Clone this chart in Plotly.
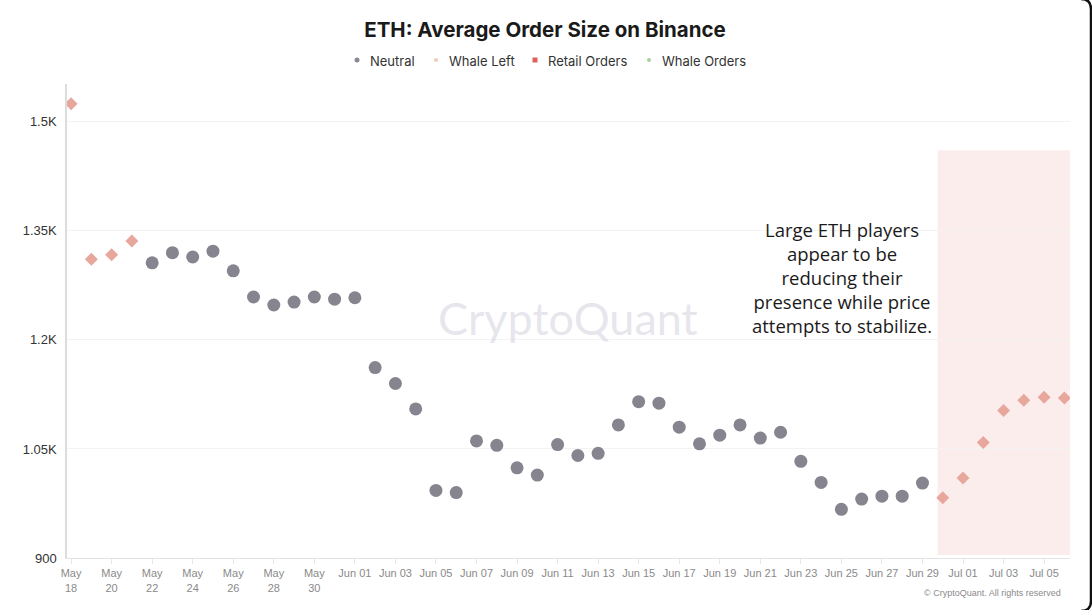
import plotly.graph_objects as go
import pandas as pd

# ---- data ----
dates = pd.date_range("2025-05-18", "2025-07-06", freq="D").strftime("%Y-%m-%d").tolist()
values = [1525, 1311, 1317, 1336, 1306, 1320, 1314, 1322, 1295, 1259,
          1248, 1252, 1259, 1256, 1258, 1162, 1140, 1105, 993, 990,
          1061, 1055, 1024, 1014, 1056, 1041, 1044, 1083, 1115, 1113,
          1080, 1057, 1069, 1083, 1065, 1073, 1033, 1004, 967, 981,
          985, 985, 1003, 983, 1010, 1059, 1103, 1117, 1121, 1120]
kinds = (["Retail Orders"] * 4 + ["Neutral"] * 39 + ["Retail Orders"] * 7)

tick_dates = dates[::2][:25]
tick_text = []
for d in tick_dates:
    t = pd.Timestamp(d)
    if t.month == 5:
        tick_text.append(f"May<br>{t.day:02d}")
    else:
        tick_text.append(t.strftime("%b %d"))

y_ticks = [900, 1050, 1200, 1350, 1500]
y_text = ["900", "1.05K", "1.2K", "1.35K", "1.5K"]

legend_names = ["Neutral", "Whale Left", "Retail Orders", "Whale Orders"]
legend_colors = ["#8a8893", "#f3cbb8", "#e0615c", "#a9d39e"]
legend_symbols = ["circle", "circle", "square", "circle"]

neutral_color = "#86848f"
retail_color = "#e8a79d"

# ---- geometry helpers (pixel -> paper) ----
L, R, T, B = 67, 22, 84, 52
W, H = 1092, 610
pw, ph = W - L - R, H - T - B


def px(x):
    return (x - L) / pw


def py(y):
    return (H - B - y) / ph


# ---- figure ----
fig = go.Figure()

nx = [d for d, k in zip(dates, kinds) if k == "Neutral"]
ny = [v for v, k in zip(values, kinds) if k == "Neutral"]
rx = [d for d, k in zip(dates, kinds) if k == "Retail Orders"]
ry = [v for v, k in zip(values, kinds) if k == "Retail Orders"]

fig.add_trace(go.Scatter(x=nx, y=ny, mode="markers", showlegend=False,
                         marker=dict(symbol="circle", size=13, color=neutral_color),
                         name="Neutral"))
fig.add_trace(go.Scatter(x=rx, y=ry, mode="markers", showlegend=False,
                         marker=dict(symbol="diamond", size=10, color=retail_color),
                         name="Retail Orders"))

# highlighted region
fig.add_shape(type="rect", xref="x", yref="y",
              x0="2025-06-29 18:00", x1="2025-07-06 06:40", y0=904, y1=1461,
              fillcolor="rgba(250,225,225,0.6)", line_width=0, layer="below")

# watermark
fig.add_annotation(x=px(568), y=py(318), xref="paper", yref="paper",
                   xanchor="center", yanchor="middle",
                   text="CryptoQuant", showarrow=False,
                   font=dict(family="Lato", size=45, color="rgba(200,200,212,0.45)"))

# commentary
fig.add_annotation(x=px(842), y=py(277), xref="paper", yref="paper",
                   xanchor="center", yanchor="middle",
                   text="Large ETH players<br>appear to be<br>reducing their<br>presence while price<br>attempts to stabilize.",
                   showarrow=False, align="center",
                   font=dict(family="Open Sans", size=18.5, color="#1a1a1a"))

# copyright
fig.add_annotation(x=px(1063), y=py(593), xref="paper", yref="paper",
                   text="© CryptoQuant. All rights reserved", showarrow=False,
                   xanchor="right", yanchor="middle",
                   font=dict(family="Liberation Sans", size=9, color="#8a8a8a"))

# legend (drawn as text + small markers)
leg_mx = [357, 436, 535, 649]
leg_sz = [5, 4, 5, 4]
for n, c, s, mx, sz in zip(legend_names, legend_colors, legend_symbols, leg_mx, leg_sz):
    h = sz / 2
    fig.add_shape(type="circle" if s == "circle" else "rect",
                  xref="paper", yref="paper",
                  x0=px(mx - h), x1=px(mx + h), y0=py(60 + h), y1=py(60 - h),
                  fillcolor=c, line_width=0)
    fig.add_annotation(x=px(mx + 11), y=py(60.5), xref="paper", yref="paper",
                       xanchor="left", yanchor="middle", showarrow=False,
                       text=n, font=dict(family="Inter", size=13, color="#333333"))

# screenshot frame on the right
frame = (f"M {px(1081)},{py(-1)} Q {px(1091)},{py(-1)} {px(1091)},{py(9)} "
         f"L {px(1091)},{py(601)} Q {px(1091)},{py(611)} {px(1081)},{py(611)}")
fig.add_shape(type="path", xref="paper", yref="paper", path=frame,
              line=dict(color="#111111", width=2.5))

fig.update_layout(
    width=W, height=H,
    margin=dict(l=L, r=R, t=T, b=B),
    paper_bgcolor="white", plot_bgcolor="white",
    title=dict(text="<b>ETH: Average Order Size on Binance</b>", x=545 / W, xref="container",
               xanchor="center", y=1 - 30 / H, yanchor="middle",
               font=dict(family="Inter", size=20.5, color="#1a1a1a")),
    showlegend=False,
)

fig.update_xaxes(
    range=["2025-05-17 19:10", "2025-07-06 06:40"],
    tickvals=tick_dates, ticktext=tick_text,
    tickfont=dict(family="Liberation Sans", size=11, color="#8a8a8a"),
    showgrid=False, showline=True, linecolor="#e3e3e3", linewidth=1,
    ticks="outside", ticklen=5, tickcolor="#e6e6e6", zeroline=False,
)
fig.update_yaxes(
    range=[900, 1552],
    tickvals=y_ticks, ticktext=y_text,
    tickfont=dict(family="Liberation Sans", size=13, color="#333333"),
    showgrid=True, gridcolor="#f3f3f3", gridwidth=1,
    showline=True, linecolor="#dcdcdc", linewidth=1.5,
    ticks="", ticklabelstandoff=6, zeroline=False,
)

fig.write_html("out.html")
